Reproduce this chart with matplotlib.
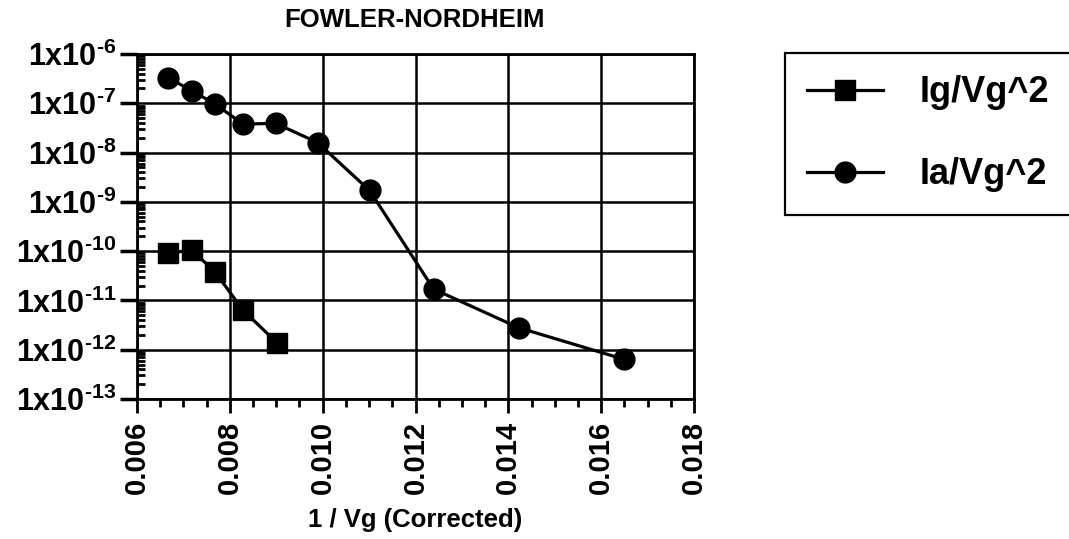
import matplotlib
matplotlib.use("Agg")
import matplotlib.pyplot as plt
from matplotlib.ticker import FixedLocator, MultipleLocator, LogLocator, NullFormatter
import numpy as np

# ---- data ----
x_ig = [0.00667, 0.00718, 0.00768, 0.00828, 0.00901]
y_ig = [9.1e-11, 1.05e-10, 3.8e-11, 6.4e-12, 1.4e-12]

x_ia = [0.00667, 0.00718, 0.00768, 0.00828, 0.00899, 0.00989, 0.01101, 0.01239, 0.01422, 0.01649]
y_ia = [3.3e-7, 1.8e-7, 9.7e-8, 3.8e-8, 3.9e-8, 1.6e-8, 1.7e-9, 1.7e-11, 2.8e-12, 6.4e-13]

labels = ["Ig/Vg^2", "Ia/Vg^2"]
x_ticks = [0.006, 0.008, 0.010, 0.012, 0.014, 0.016, 0.018]
x_ticklabels = ["0.006", "0.008", "0.010", "0.012", "0.014", "0.016", "0.018"]
y_exponents = [-13, -12, -11, -10, -9, -8, -7, -6]
title = "FOWLER-NORDHEIM"
xlabel = "1 / Vg (Corrected)"

plt.rcParams["font.family"] = ["Liberation Sans", "DejaVu Sans"]
plt.rcParams["font.weight"] = "bold"
plt.rcParams["mathtext.fontset"] = "custom"
plt.rcParams["mathtext.rm"] = "Liberation Sans:bold"
plt.rcParams["mathtext.bf"] = "Liberation Sans:bold"
plt.rcParams["mathtext.it"] = "Liberation Sans:bold"
plt.rcParams["mathtext.default"] = "bf"

fig = plt.figure(figsize=(10.69, 5.39), dpi=100)
ax = fig.add_axes([137/1069, 1-399/539, (694-137)/1069, (399-54)/539])

lw = 2.3
ms = 15
l1, = ax.plot(x_ig, y_ig, color="black", lw=lw, marker="s", ms=ms, label=labels[0])
l2, = ax.plot(x_ia, y_ia, color="black", lw=lw, marker="o", ms=ms, label=labels[1])

ax.set_yscale("log")
ax.set_xlim(0.006, 0.018)
ax.set_ylim(1e-13, 1e-6)

ax.xaxis.set_major_locator(FixedLocator(x_ticks))
ax.set_xticklabels(x_ticklabels, rotation=90, fontsize=21, fontweight="bold")
ax.xaxis.set_minor_locator(MultipleLocator(0.0005))

HY = "\u2010"
yt = [10.0**e for e in y_exponents]
ax.yaxis.set_major_locator(FixedLocator(yt))
ax.set_yticklabels(["1x10$^{%s%d}$" % (HY, -e) for e in y_exponents], fontsize=22, fontweight="bold")
ax.yaxis.set_minor_locator(LogLocator(base=10, subs=np.arange(2, 10), numticks=20))
ax.yaxis.set_minor_formatter(NullFormatter())

ax.grid(True, which="major", color="black", lw=1.8)
ax.set_axisbelow(True)
for s in ax.spines.values():
    s.set_linewidth(2.0)

ax.tick_params(axis="x", which="major", direction="out", length=10, width=2.0, pad=6)
ax.tick_params(axis="x", which="minor", direction="out", length=6, width=2.0)
ax.tick_params(axis="y", which="major", direction="out", length=12, width=2.5, pad=3)
ax.tick_params(axis="y", which="minor", direction="in", length=6, width=2.0)

fig.text(414/1069, 1-27/539, title, ha="center", va="baseline", fontsize=18.5, fontweight="bold")
ax.set_xlabel(xlabel, fontsize=18.5, fontweight="bold", labelpad=10)

leg = fig.legend(handles=[l1, l2], loc="upper left", bbox_to_anchor=(785/1069, 1-53/539),
                 fontsize=26, handlelength=2.1, handletextpad=1.0, borderpad=0.62,
                 labelspacing=1.3, fancybox=False, framealpha=1, edgecolor="black",
                 borderaxespad=0, markerscale=1.0)
leg.get_frame().set_linewidth(1.6)
for t in leg.get_texts():
    t.set_fontweight("bold")

fig.savefig("out.png", dpi=100)
